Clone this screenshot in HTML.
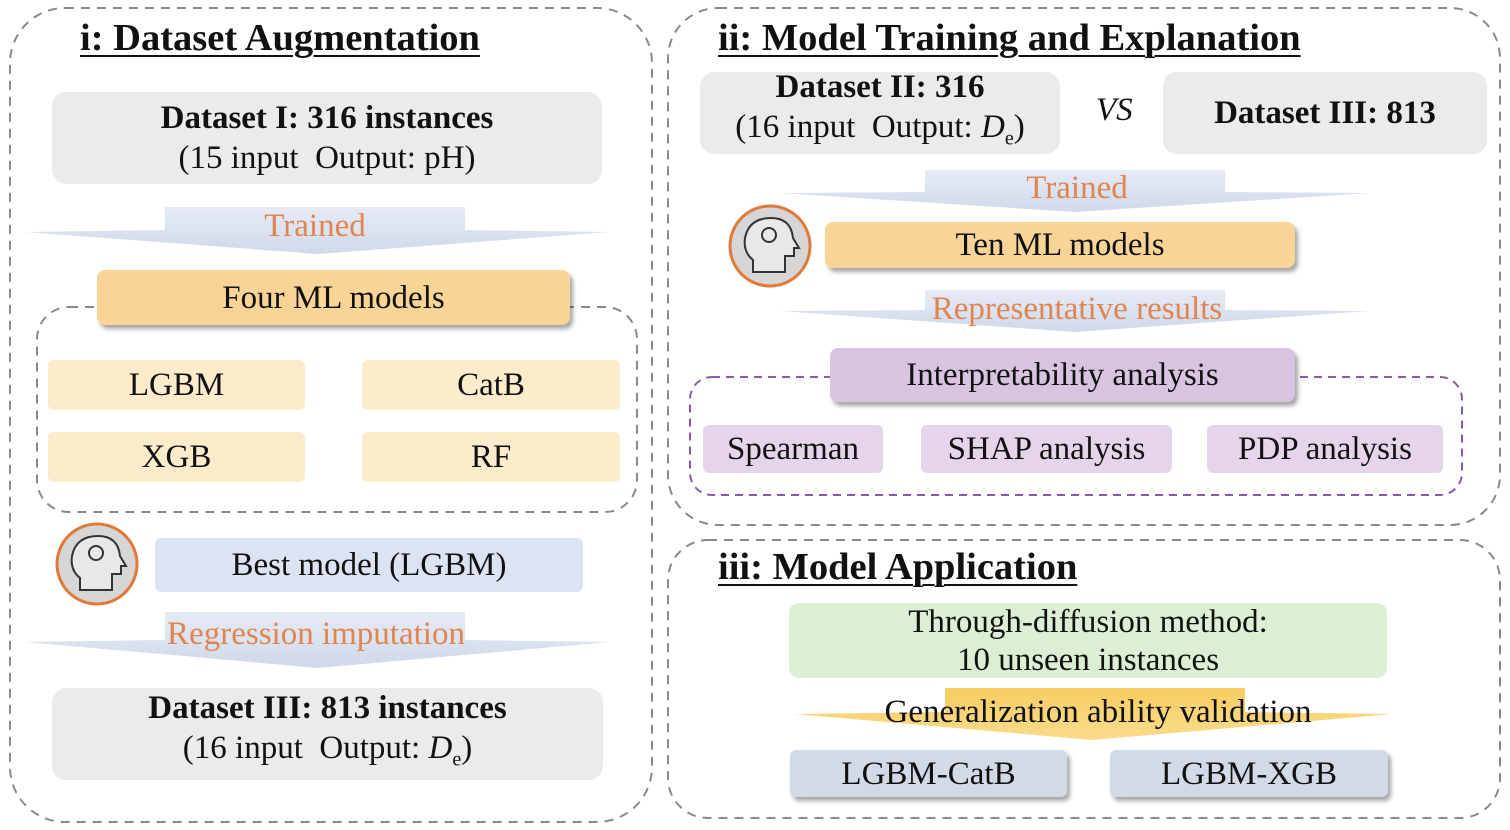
<!DOCTYPE html>
<html><head><meta charset="utf-8"><style>
body{margin:0;background:#fff;width:1510px;height:830px;position:relative;overflow:hidden;font-family:"Liberation Serif",serif;color:#111}
.b{position:absolute;display:flex;flex-direction:column;align-items:center;justify-content:center;text-align:center;font-size:33px;line-height:40px;box-sizing:border-box;white-space:nowrap}
.t{position:absolute;font-weight:bold;font-size:38.5px;text-decoration:underline;text-decoration-thickness:2px;text-underline-offset:5px;white-space:nowrap}
.o{position:absolute;color:#e08450;font-size:33px;white-space:nowrap;transform:translateX(-50%)}
.sh{box-shadow:3px 4px 4px rgba(0,0,0,.35)}
</style></head><body>
<svg width="1510" height="830" style="position:absolute;left:0;top:0">
<defs>
<linearGradient id="bl" x1="0" y1="0" x2="0" y2="1"><stop offset="0" stop-color="#e6ebf5"/><stop offset="1" stop-color="#d0d9ea"/></linearGradient>
<linearGradient id="yl" x1="0" y1="0" x2="0" y2="1"><stop offset="0" stop-color="#f7cd62"/><stop offset="1" stop-color="#f9dc8c"/></linearGradient>
</defs>
<g fill="none" stroke="#8a8a8a" stroke-width="2" stroke-dasharray="9,7">
<rect x="10" y="8" width="642" height="814" rx="55"/>
<rect x="668" y="8" width="832" height="517" rx="50"/>
<rect x="668" y="540" width="832" height="278" rx="40"/>
<rect x="37" y="307" width="600" height="205" rx="32"/>
</g>
<rect x="690" y="377" width="772" height="118" rx="22" fill="none" stroke="#8a5aa8" stroke-width="2" stroke-dasharray="8,6"/>
<polygon points="165,207 465,207 465,230 610,232 318,254 25,232 165,230" fill="url(#bl)"/>
<polygon points="165,612 465,612 465,640 610,642 318,668 25,642 165,640" fill="url(#bl)"/>
<polygon points="925,170 1225,170 1225,192 1370,193 1075,212 780,193 925,192" fill="url(#bl)"/>
<polygon points="925,290 1225,290 1225,310 1370,311 1075,332 780,311 925,310" fill="url(#bl)"/>
<polygon points="945,688 1245,688 1245,712 1392,714 1092,740 795,714 945,712" fill="url(#yl)"/>
<g>
<circle cx="97" cy="564" r="40" fill="#d6d6d6" stroke="#e07a3a" stroke-width="3"/>
<path d="M80,590 v-12 q-10,-8 -8,-22 q4,-20 26,-20 q20,0 22,20 l6,10 h-5 v8 h-9 v16z" fill="#e8e8e8" stroke="#333" stroke-width="2"/>
<circle cx="96" cy="553" r="7" fill="none" stroke="#333" stroke-width="2"/>
<circle cx="770" cy="246" r="40" fill="#d6d6d6" stroke="#e07a3a" stroke-width="3"/>
<path d="M753,272 v-12 q-10,-8 -8,-22 q4,-20 26,-20 q20,0 22,20 l6,10 h-5 v8 h-9 v16z" fill="#e8e8e8" stroke="#333" stroke-width="2"/>
<circle cx="769" cy="235" r="7" fill="none" stroke="#333" stroke-width="2"/>
</g>
</svg>

<div class="t" style="left:80px;top:16px">i: Dataset Augmentation</div>
<div class="b" style="left:52px;top:92px;width:550px;height:92px;background:#ebebeb;border-radius:14px"><b>Dataset I: 316 instances</b><span>(15 input&nbsp; Output: pH)</span></div>
<div class="o" style="left:315px;top:208px">Trained</div>
<div class="b sh" style="left:97px;top:270px;width:473px;height:55px;background:#f8d596;border-radius:8px">Four ML models</div>
<div class="b" style="left:48px;top:360px;width:257px;height:50px;background:#fdeccb;border-radius:6px">LGBM</div>
<div class="b" style="left:362px;top:360px;width:258px;height:50px;background:#fdeccb;border-radius:6px">CatB</div>
<div class="b" style="left:48px;top:432px;width:257px;height:50px;background:#fdeccb;border-radius:6px">XGB</div>
<div class="b" style="left:362px;top:432px;width:258px;height:50px;background:#fdeccb;border-radius:6px">RF</div>
<div class="b" style="left:155px;top:538px;width:428px;height:54px;background:#dce3f3;border-radius:6px">Best model (LGBM)</div>
<div class="o" style="left:316px;top:616px">Regression imputation</div>
<div class="b" style="left:52px;top:688px;width:551px;height:92px;background:#ebebeb;border-radius:14px"><b>Dataset III: 813 instances</b><span>(16 input&nbsp; Output: <i>D</i><sub style="font-size:20px">e</sub>)</span></div>

<div class="t" style="left:718px;top:16px">ii: Model Training and Explanation</div>
<div class="b" style="left:700px;top:72px;width:360px;height:82px;background:#ebebeb;border-radius:14px"><b>Dataset II: 316</b><span>(16 input&nbsp; Output: <i>D</i><sub style="font-size:20px">e</sub>)</span></div>
<div style="position:absolute;left:1096px;top:92px;font-size:33px;font-style:italic">VS</div>
<div class="b" style="left:1163px;top:72px;width:324px;height:82px;background:#ebebeb;border-radius:14px"><b>Dataset III: 813</b></div>
<div class="o" style="left:1077px;top:170px">Trained</div>
<div class="b sh" style="left:825px;top:222px;width:470px;height:46px;background:#f8d596;border-radius:8px">Ten ML models</div>
<div class="o" style="left:1077px;top:291px">Representative results</div>
<div class="b sh" style="left:830px;top:348px;width:465px;height:54px;background:#d8c4e1;border-radius:8px">Interpretability analysis</div>
<div class="b" style="left:703px;top:425px;width:180px;height:48px;background:#e6d5ea;border-radius:6px">Spearman</div>
<div class="b" style="left:921px;top:425px;width:251px;height:48px;background:#e6d5ea;border-radius:6px">SHAP analysis</div>
<div class="b" style="left:1207px;top:425px;width:236px;height:48px;background:#e6d5ea;border-radius:6px">PDP analysis</div>

<div class="t" style="left:718px;top:545px">iii: Model Application</div>
<div class="b" style="left:789px;top:603px;width:598px;height:75px;background:#dcefd4;border-radius:10px;line-height:38px"><span>Through-diffusion method:</span><span>10 unseen instances</span></div>
<div class="o" style="left:1098px;top:694px;color:#111">Generalization ability validation</div>
<div class="b sh" style="left:790px;top:750px;width:277px;height:47px;background:#d2dae8;border-radius:6px">LGBM-CatB</div>
<div class="b sh" style="left:1110px;top:750px;width:278px;height:47px;background:#d2dae8;border-radius:6px">LGBM-XGB</div>
</body></html>
